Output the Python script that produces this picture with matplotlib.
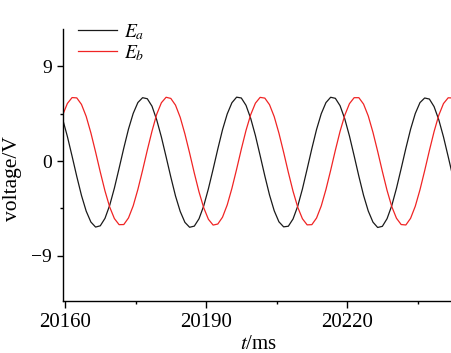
import numpy as np
import matplotlib
matplotlib.use('Agg')
import matplotlib.pyplot as plt
from matplotlib.ticker import FixedLocator

plt.rcParams['font.family'] = ['Liberation Serif', 'DejaVu Serif']
plt.rcParams['mathtext.fontset'] = 'stix'

# sampled voltages, 1 ms apart, starting at t0
t0 = 20159.5
dt = 1.0

e_a = [3.98, 2.34, 0.46, -1.47, -3.28, -4.77, -5.81, -6.29, -6.17, -5.46,
       -4.22, -2.58, -0.70, 1.23, 3.04, 4.53, 5.57, 6.03, 5.93, 5.22,
       3.92, 2.28, 0.40, -1.52, -3.33, -4.80, -5.84, -6.31, -6.20, -5.50,
       -4.28, -2.64, -0.78, 1.15, 2.98, 4.48, 5.55, 6.08, 6.00, 5.30,
       4.05, 2.42, 0.52, -1.42, -3.24, -4.74, -5.79, -6.27, -6.21, -5.52,
       -4.30, -2.66, -0.76, 1.18, 3.00, 4.50, 5.56, 6.07, 5.97, 5.27,
       4.02, 2.38, 0.49, -1.45, -3.27, -4.76, -5.82, -6.33, -6.22, -5.49,
       -4.25, -2.60, -0.72, 1.21, 3.02, 4.52, 5.56, 6.00, 5.90, 5.18,
       3.93, 2.30, 0.42, -1.50]

e_b = [4.38, 5.48, 6.04, 6.01, 5.39, 4.25, 2.68, 0.86, -1.05, -2.85,
       -4.38, -5.48, -6.06, -6.05, -5.42, -4.27, -2.70, -0.88, 1.03, 2.84,
       4.45, 5.55, 6.07, 5.96, 5.32, 4.16, 2.58, 0.76, -1.15, -2.94,
       -4.45, -5.55, -6.10, -6.00, -5.35, -4.18, -2.60, -0.78, 1.13, 2.92,
       4.42, 5.51, 6.06, 5.99, 5.36, 4.22, 2.65, 0.83, -1.08, -2.88,
       -4.40, -5.50, -6.08, -6.06, -5.43, -4.28, -2.71, -0.89, 1.02, 2.82,
       4.35, 5.46, 6.03, 6.03, 5.42, 4.29, 2.73, 0.92, -0.99, -2.80,
       -4.34, -5.45, -6.05, -6.09, -5.46, -4.31, -2.74, -0.92, 0.99, 2.80,
       4.36, 5.47, 6.02, 6.00]

x_major = [20160, 20190, 20220]
x_minor = [20175, 20205, 20235]
y_major = [9, 0, -9]
y_minor = [4.5, -4.5]

t = t0 + dt * np.arange(len(e_a))

fig = plt.figure(figsize=(4.51, 3.53), dpi=100)
ax = fig.add_axes([63 / 451, 52 / 353, 388 / 451, 272 / 353])

ax.plot(t, e_a, color='#1a1a1a', lw=0.9, label='$E_a$')
ax.plot(t, e_b, color='#f02424', lw=0.9, label='$E_b$')

ax.set_xlim(20159.57, 20242.1)
ax.set_ylim(-13.33, 12.57)

ax.spines['top'].set_visible(False)
ax.spines['right'].set_visible(False)
for s in ('left', 'bottom'):
    ax.spines[s].set_linewidth(1.0)

ax.xaxis.set_major_locator(FixedLocator(x_major))
ax.xaxis.set_minor_locator(FixedLocator(x_minor))
ax.yaxis.set_major_locator(FixedLocator(y_major))
ax.yaxis.set_minor_locator(FixedLocator(y_minor))
ax.set_yticklabels(['9', '0', '\u22129'])

ax.tick_params(axis='x', which='major', direction='out', length=5, width=1,
               pad=3.5, labelsize=15)
ax.tick_params(axis='x', which='minor', direction='out', length=2.5, width=1)
ax.tick_params(axis='y', which='major', direction='out', length=4, width=1,
               pad=4, labelsize=14)
ax.tick_params(axis='y', which='minor', direction='out', length=2.5, width=1)

ax.set_xlabel('$t$/ms', fontsize=15)
ax.xaxis.set_label_coords(0.505, -0.125)
ax.set_ylabel('voltage/V', fontsize=15.5)
ax.yaxis.set_label_coords(-0.106, 0.45)

ax.legend(loc='upper left', bbox_to_anchor=(0.0387, 1.025), frameon=False,
          fontsize=14, handlelength=2.0, handletextpad=0.35,
          labelspacing=0.05, borderpad=0, borderaxespad=0)

fig.savefig('out.png', dpi=100)
